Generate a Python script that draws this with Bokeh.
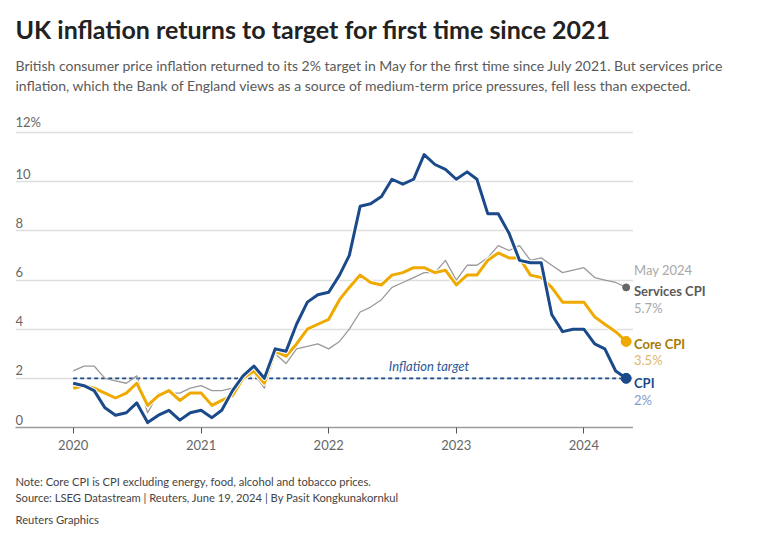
import pandas as pd
from bokeh.plotting import figure
from bokeh.layouts import column, row
from bokeh.models import Range1d, FixedTicker, DatetimeTickFormatter
from bokeh.core.properties import value
from bokeh.embed import file_html
from bokeh.resources import INLINE

# ---------------- data ----------------
dates = pd.date_range("2020-01-01", "2024-05-01", freq="MS")

cpi = [1.8, 1.7, 1.5, 0.8, 0.5, 0.6, 1.0, 0.2, 0.5, 0.7, 0.3, 0.6,
       0.7, 0.4, 0.7, 1.5, 2.1, 2.5, 2.0, 3.2, 3.1, 4.2, 5.1, 5.4,
       5.5, 6.2, 7.0, 9.0, 9.1, 9.4, 10.1, 9.9, 10.1, 11.1, 10.7, 10.5,
       10.1, 10.4, 10.1, 8.7, 8.7, 7.9, 6.8, 6.7, 6.7, 4.6, 3.9, 4.0,
       4.0, 3.4, 3.2, 2.3, 2.0]

core_cpi = [1.6, 1.7, 1.6, 1.4, 1.2, 1.4, 1.8, 0.9, 1.3, 1.5, 1.1, 1.4,
            1.4, 0.9, 1.1, 1.3, 2.0, 2.3, 1.8, 3.1, 2.9, 3.4, 4.0, 4.2,
            4.4, 5.2, 5.7, 6.2, 5.9, 5.8, 6.2, 6.3, 6.5, 6.5, 6.3, 6.4,
            5.8, 6.2, 6.2, 6.8, 7.1, 6.9, 6.9, 6.2, 6.1, 5.7, 5.1, 5.1,
            5.1, 4.5, 4.2, 3.9, 3.5]

services_cpi = [2.3, 2.5, 2.5, 2.0, 1.9, 1.8, 2.1, 0.6, 1.4, 1.4, 1.4, 1.6,
                1.7, 1.5, 1.5, 1.6, 1.9, 2.2, 1.6, 3.0, 2.6, 3.2, 3.3, 3.4,
                3.2, 3.5, 4.0, 4.7, 4.9, 5.2, 5.7, 5.9, 6.1, 6.3, 6.3, 6.8,
                6.0, 6.6, 6.6, 6.9, 7.4, 7.2, 7.4, 6.8, 6.9, 6.6, 6.3, 6.4,
                6.5, 6.1, 6.0, 5.9, 5.7]

target = 2.0
y_ticks = [0, 2, 4, 6, 8, 10, 12]
y_tick_labels = ["0", "2", "4", "6", "8", "10", "12%"]
x_tick_years = [2020, 2021, 2022, 2023, 2024]

title = "UK inflation returns to target for first time since 2021"
subtitle = ["British consumer price inflation returned to its 2% target in May for the first time since July 2021. But services price",
            "inflation, which the Bank of England views as a source of medium-term price pressures, fell less than expected."]
footer = ["Note: Core CPI is CPI excluding energy, food, alcohol and tobacco prices.",
          "Source: LSEG Datastream | Reuters, June 19, 2024 | By Pasit Kongkunakornkul",
          "Reuters Graphics"]

# ---------------- styling ----------------
FONT = "Lato"
NAVY = "#1a4a8a"
GOLD = "#eeaa00"
GREY_LINE = "#9a9a9a"

W = 760
HEAD_H, MID_H, FOOT_H = 100, 360, 75
MAIN_W = 633
FL, FT, FB = 15, 10, 327          # main frame edges inside the middle row (px)
PX_PER_UNIT = 24.58


def blank(width, height, x_range, y_range, **kw):
    f = figure(width=width, height=height, output_backend="svg", toolbar_location=None,
               x_range=x_range, y_range=y_range, x_axis_location=None, y_axis_location=None,
               min_border=0, **kw)
    f.outline_line_color = None
    f.xgrid.visible = False
    f.ygrid.visible = False
    f.background_fill_color = "white"
    f.border_fill_color = "white"
    return f


# ---------------- header ----------------
head = blank(W, HEAD_H, Range1d(0, W), Range1d(HEAD_H, 0))
head.text(x=[15], y=[28], text=[title], text_font=value(FONT), text_font_style="bold",
          text_font_size="25px", text_color="#222222", text_baseline="alphabetic")
head.text(x=[15, 15], y=[65, 84.5], text=subtitle, text_font=value(FONT),
          text_font_size="14px", text_color="#5a5a5a", text_baseline="alphabetic")

# ---------------- main chart ----------------
p = figure(width=MAIN_W, height=MID_H, output_backend="svg", toolbar_location=None,
           x_axis_type="datetime", y_axis_location=None,
           x_range=Range1d(pd.Timestamp("2019-07-20"), pd.Timestamp("2024-05-22")),
           y_range=Range1d(0, (FB - FT) / PX_PER_UNIT),
           min_border_left=FL, min_border_right=0,
           min_border_top=FT, min_border_bottom=MID_H - FB)
p.outline_line_color = None
p.background_fill_color = "white"
p.border_fill_color = "white"

p.xgrid.visible = False
p.ygrid.ticker = FixedTicker(ticks=y_ticks)
p.ygrid.grid_line_color = "#dedede"
p.ygrid.grid_line_width = 1.6

xax = p.xaxis[0]
xax.ticker = FixedTicker(ticks=[pd.Timestamp(f"{y}-01-01").value / 1e6 for y in x_tick_years])
xax.formatter = DatetimeTickFormatter(years="%Y", months="%Y", days="%Y", hours="%Y")
xax.axis_line_color = "#9a9a9a"
xax.axis_line_width = 1.6
xax.major_tick_in = 0
xax.major_tick_out = 6
xax.major_tick_line_color = "#555555"
xax.major_tick_line_width = 1
xax.minor_tick_line_color = None
xax.major_label_text_font = FONT
xax.major_label_text_font_size = "13px"
xax.major_label_text_color = "#666666"
xax.major_label_standoff = 6

p.text(x=[p.x_range.start] * len(y_ticks), y=y_ticks, text=y_tick_labels,
       text_font=value(FONT), text_font_size="13px", text_color="#666666",
       text_align="left", text_baseline="bottom", y_offset=-3)

p.line(x=[dates[0], dates[-1]], y=[target, target], line_color=NAVY,
       line_width=1.6, line_dash="4 3")
p.text(x=[pd.Timestamp("2022-10-15")], y=[target], text=["Inflation target"],
       text_font=value(FONT), text_font_style="italic", text_font_size="13px",
       text_color="#2b5a9a", text_align="center", text_baseline="bottom", y_offset=-4)

p.line(dates, services_cpi, line_color=GREY_LINE, line_width=1.3, line_join="round")
p.line(dates, core_cpi, line_color="white", line_width=5, line_join="round")
p.line(dates, core_cpi, line_color=GOLD, line_width=3, line_join="round")
p.line(dates, cpi, line_color="white", line_width=5, line_join="round")
p.line(dates, cpi, line_color=NAVY, line_width=3, line_join="round")

p.scatter([dates[-1]], [services_cpi[-1]], size=7, color="#666666")
p.scatter([dates[-1]], [core_cpi[-1]], size=10, color=GOLD)
p.scatter([dates[-1]], [cpi[-1]], size=10, color=NAVY)

# ---------------- right-hand end labels ----------------
side = figure(width=W - MAIN_W, height=MID_H, output_backend="svg", toolbar_location=None,
              x_range=Range1d(0, W - MAIN_W), y_range=p.y_range,
              x_axis_location=None, y_axis_location=None,
              min_border_left=0, min_border_right=0,
              min_border_top=FT, min_border_bottom=MID_H - FB)
side.outline_line_color = None
side.xgrid.visible = False
side.ygrid.visible = False


def end_label(txt, yv, dy, color, bold=False, size="13px"):
    side.text(x=[0.5], y=[yv], text=[txt], y_offset=dy, text_font=value(FONT),
              text_font_size=size, text_color=color,
              text_font_style="bold" if bold else "normal",
              text_baseline="middle", text_align="left")


end_label(dates[-1].strftime("%b %Y"), services_cpi[-1], -17, "#a8a8a8")
end_label("Services CPI", services_cpi[-1], 3.5, "#5a5a5a", bold=True)
end_label(f"{services_cpi[-1]}%", services_cpi[-1], 20.5, "#a8a8a8")
end_label("Core CPI", core_cpi[-1], 2.5, "#a87b00", bold=True)
end_label(f"{core_cpi[-1]}%", core_cpi[-1], 19, "#dcb86a")
end_label("CPI", cpi[-1], 4.5, NAVY, bold=True)
end_label(f"{cpi[-1]:g}%", cpi[-1], 21.5, "#7f9cc8")

# ---------------- footer ----------------
foot = blank(W, FOOT_H, Range1d(0, W), Range1d(FOOT_H, 0))
foot.text(x=[15, 15, 15], y=[20.5, 36.5, 59], text=footer, text_font=value(FONT),
          text_font_size="11.2px", text_color="#444444", text_baseline="alphabetic")

layout = column(head, row(p, side, spacing=0), foot, spacing=0)
open("out.html", "w").write(file_html(layout, INLINE))
